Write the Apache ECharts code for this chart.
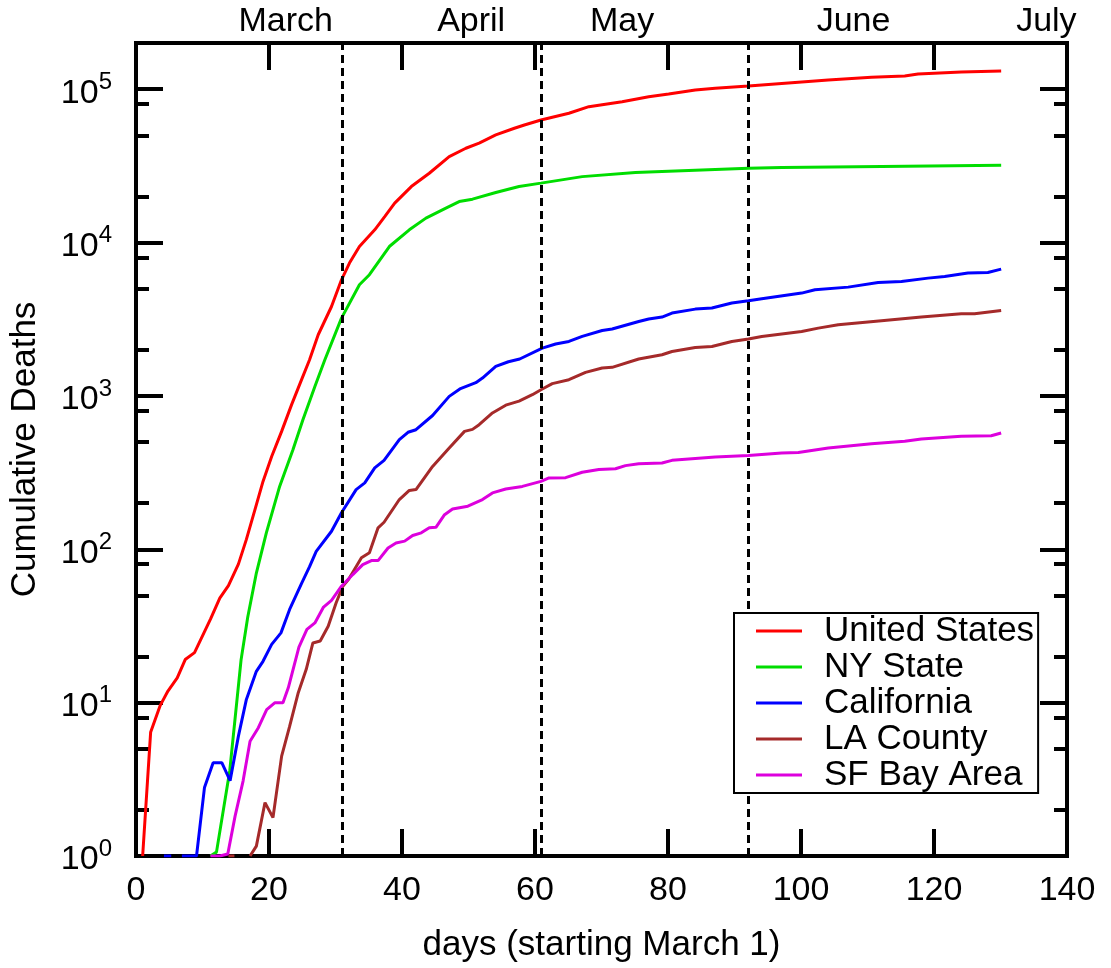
<!DOCTYPE html>
<html>
<head>
<meta charset="utf-8">
<script src="https://cdn.jsdelivr.net/npm/echarts@6/dist/echarts.min.js"></script>
<style>
  html, body { margin: 0; padding: 0; background: #fff; }
  #chart { width: 1111px; height: 968px; }
</style>
</head>
<body>
<div id="chart"></div>
<script>
// [day, cumulative deaths]
const usDeaths = [[1.0,1],[2.2,6.4],[3.65,9.6],[4.8,11.9],[6.2,14.5],[7.4,19.1],[8.8,21.2],[11.2,35],[12.6,48],[13.9,58],[15.4,80],[16.6,116],[17.9,182],[19.1,277],[20.4,403],[21.9,587],[23.4,877],[24.9,1276],[26.1,1722],[27.4,2505],[29.4,3828],[30.9,5716],[32.1,7345],[33.6,9420],[35.9,12100],[37.4,14760],[38.9,18070],[41.4,23170],[44.1,28300],[47.1,36300],[49.6,41200],[51.6,44500],[54.1,50300],[56.9,55600],[58.4,58400],[60.9,63000],[65.1,69700],[68.1,76900],[73.1,82800],[77.1,89300],[80.1,93000],[84.1,98900],[87.1,101400],[92.1,105000],[97.1,109000],[104.1,114800],[110.6,119500],[115.6,121900],[117.6,125600],[124.1,129400],[130.1,131500]];
const nyDeaths = [[11.2,1],[12.1,1.06],[14.1,3.6],[15.8,19],[16.8,36],[18.1,70],[19.6,128],[21.6,257],[23.6,446],[25.1,700],[26.9,1153],[28.4,1722],[30.9,3215],[33.6,5300],[35.1,6170],[38.1,9420],[41.1,12100],[43.6,14430],[46.6,16750],[48.6,18500],[50.6,19180],[54.1,21200],[57.6,23200],[60.9,24400],[67.1,26900],[75.1,28600],[82.1,29400],[92.1,30500],[97.1,30800],[112.1,31300],[130.1,31900]];
const caDeaths = [[4.2,1],[5.3,1],[6.1,'-'],[6.9,1],[9.1,1],[10.3,2.8],[11.6,4.06],[12.9,4.06],[14.15,3.1],[15.4,6.05],[16.6,10.5],[18.1,16],[19.1,18.6],[20.4,24],[21.8,28.5],[23.1,40.5],[24.9,60],[26.1,77],[27.1,97],[29.4,131],[30.9,173],[33.1,245],[34.4,271],[35.9,339],[37.3,380],[39.6,519],[40.9,579],[42.1,602],[44.6,745],[47.1,993],[48.7,1110],[51.1,1220],[52.1,1308],[54.1,1557],[56,1670],[57.7,1740],[61.1,2050],[63.1,2180],[65.1,2265],[67.1,2443],[70.1,2672],[71.6,2728],[75.6,3057],[77.1,3170],[79.1,3266],[80.6,3467],[84.1,3680],[86.6,3740],[89.6,4030],[92.1,4170],[94.1,4300],[100.1,4680],[102.1,4920],[107.1,5120],[111.6,5486],[115.1,5570],[119.1,5860],[121.6,6010],[125.1,6320],[128.1,6380],[130.1,6710]];
const laDeaths = [[13.9,1],[14.8,1],[16,'-'],[17.15,1],[18.1,1.16],[19.4,2.23],[20.6,1.78],[21.9,4.48],[23.1,7.0],[24.4,11.6],[25.6,16.5],[26.6,24.5],[27.7,25.2],[28.9,31.5],[30.1,44.8],[31.1,57.4],[32.0,64],[33.9,88],[35.1,95],[36.4,138],[37.3,150],[39.6,211],[41.1,242],[42.1,245],[44.6,347],[47.1,457],[49.4,587],[50.6,605],[51.6,649],[53.6,774],[55.6,870],[57.6,925],[59.6,1018],[61.1,1110],[62.6,1203],[65.1,1276],[67.6,1423],[70.1,1521],[71.6,1535],[75.6,1740],[79.1,1855],[80.6,1948],[84.1,2070],[86.6,2100],[89.6,2265],[92.1,2348],[94.1,2443],[100.1,2630],[102.6,2767],[105.6,2908],[112.1,3090],[118.1,3266],[124.1,3430],[126.1,3430],[130.1,3606]];
const sfDeaths = [[11.2,1],[12.6,1],[13.8,1.03],[14.9,1.82],[16.1,3.08],[17.15,5.6],[18.4,6.86],[19.65,9.0],[20.9,10],[22.1,10],[22.9,12.5],[24.5,23],[25.7,30],[26.9,33.1],[28.2,42],[29.4,46.5],[30.9,57.4],[32.6,68.4],[34.1,79.4],[35.4,84.4],[36.4,84.4],[37.9,102],[39.1,110],[40.4,113],[41.6,123],[42.9,128],[44.1,138],[45.1,139],[46.4,168],[47.6,183],[49.9,191],[52.1,211],[53.6,233],[55.6,247],[58.1,257],[60.9,277],[62.1,292],[64.6,293],[67.1,318],[69.6,331],[72.1,335],[73.6,351],[75.6,361],[79.1,365],[80.6,380],[87.1,400],[92.1,408],[97.1,425],[99.6,428],[104.1,458],[110.6,488],[115.6,506],[118.1,524],[124.1,545],[128.6,550],[130.1,573]];

const seriesNames = ['United States', 'NY State', 'California', 'LA County', 'SF Bay Area'];
const seriesColors = ['#ff0000', '#00dd00', '#0000ff', '#a52a2a', '#dd00dd'];

// month boundaries (dashed lines) and top labels
const monthStarts = [31, 61, 92];
const monthNames = ['March', 'April', 'May', 'June', 'July'];
const monthLabelDays = [22.5, 50.4, 73.1, 107.9, 136.9];

// log axis ticks
const majorTicks = [1, 10, 100, 1000, 10000, 100000];
const minorTicks = [2, 5, 8, 20, 50, 80, 200, 500, 800, 2000, 5000, 8000, 20000, 50000, 80000];

const FONT = '"Liberation Sans", Arial, sans-serif';

const chart = echarts.init(document.getElementById('chart'));

function yAxisDef(position, ticks, len, showLabel) {
    return {
        type: 'log',
        position: position,
        min: 1,
        max: 200000,
        axisLine: { show: false },
        splitLine: { show: false },
        axisTick: {
            inside: true,
            length: len,
            customValues: ticks,
            lineStyle: { color: '#000', width: 4 }
        },
        axisLabel: {
            show: showLabel,
            customValues: majorTicks,
            margin: 24,
            padding: [8, 0, 0, 0],
            formatter: v => `{b|10}{e|${Math.round(Math.log10(v))}}`,
            rich: {
                b: { fontSize: 34, fontFamily: FONT, color: '#000', lineHeight: 46 },
                e: { fontSize: 24, fontFamily: FONT, color: '#000', verticalAlign: 'top', lineHeight: 26 }
            }
        }
    };
}

const data = [usDeaths, nyDeaths, caDeaths, laDeaths, sfDeaths];

const option = {
    animation: false,
    textStyle: { fontFamily: FONT },
    grid: {
        left: 133, right: 44, top: 43, bottom: 111,
        show: true, borderColor: '#000', borderWidth: 4
    },
    legend: {
        orient: 'vertical',
        left: 734,
        top: 613,
        icon: 'rect',
        itemWidth: 46,
        itemHeight: 3,
        itemGap: 0,
        padding: [0, 4, 0, 22],
        backgroundColor: '#fff',
        borderColor: '#000',
        borderWidth: 2,
        z: 10,
        textStyle: { fontSize: 35, color: '#000', lineHeight: 36, padding: [0, 0, 0, 17], fontFamily: FONT },
        data: seriesNames
    },
    xAxis: [
        {
            type: 'value',
            position: 'bottom',
            min: 0, max: 140, interval: 20,
            name: 'days (starting March 1)',
            nameLocation: 'middle',
            nameGap: 72,
            nameTextStyle: { fontSize: 35, color: '#000', fontFamily: FONT },
            axisLine: { show: false },
            splitLine: { show: false },
            axisTick: { inside: true, length: 27, lineStyle: { color: '#000', width: 4 } },
            axisLabel: { fontSize: 34, color: '#000', margin: 18, fontFamily: FONT }
        },
        {
            type: 'value',
            position: 'top',
            min: 0, max: 140, interval: 20,
            axisLine: { show: false },
            splitLine: { show: false },
            axisTick: { inside: true, length: 27, lineStyle: { color: '#000', width: 4 } },
            axisLabel: {
                fontSize: 34, color: '#000', margin: 4, fontFamily: FONT,
                customValues: monthLabelDays,
                formatter: v => monthNames[monthLabelDays.indexOf(v)]
            }
        }
    ],
    yAxis: [
        Object.assign(yAxisDef('left', majorTicks, 27, true), {
            name: 'Cumulative Deaths',
            nameLocation: 'middle',
            nameGap: 93,
            nameTextStyle: { fontSize: 35, color: '#000', fontFamily: FONT }
        }),
        yAxisDef('left', minorTicks, 13, false),
        yAxisDef('right', majorTicks, 27, false),
        yAxisDef('right', minorTicks, 13, false)
    ],
    series: seriesNames.map((name, i) => ({
        name: name,
        type: 'line',
        data: data[i],
        showSymbol: false,
        symbol: 'none',
        connectNulls: false,
        itemStyle: { color: seriesColors[i] },
        lineStyle: { color: seriesColors[i], width: 3 },
        markLine: i === 0 ? {
            silent: true,
            symbol: ['none', 'none'],
            label: { show: false },
            lineStyle: { color: '#000', type: [8, 5], width: 3 },
            data: monthStarts.map(d => ({ xAxis: d }))
        } : undefined
    }))
};

chart.setOption(option);
</script>
</body>
</html>
